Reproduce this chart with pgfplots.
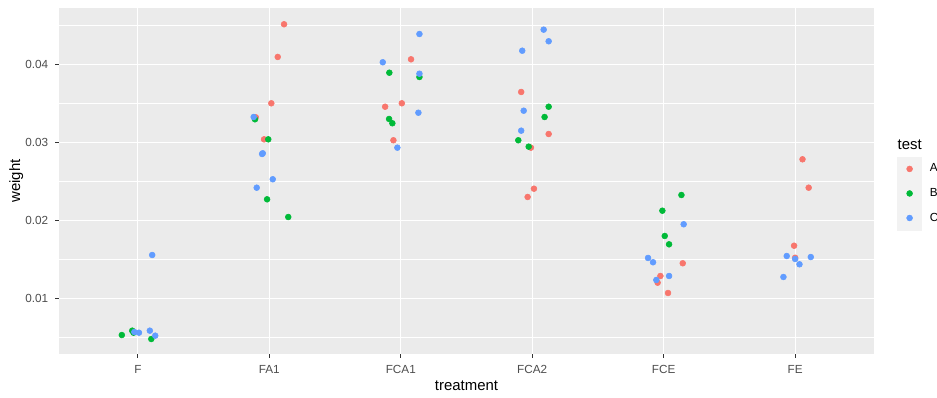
\documentclass[border=0pt]{standalone}
\usepackage{pgfplots}
\usepackage{pgfplotstable}
\pgfplotsset{compat=1.18}
\usepackage{fontspec}
\setmainfont{Liberation Sans}
\definecolor{cA}{HTML}{F8766D}
\definecolor{cB}{HTML}{00BA38}
\definecolor{cC}{HTML}{619CFF}
\definecolor{panel}{HTML}{EBEBEB}
\definecolor{keybg}{HTML}{F2F2F2}
\definecolor{gray30}{HTML}{4D4D4D}
\definecolor{gray20}{HTML}{333333}

% x = treatment index (F=1, FA1=2, FCA1=3, FCA2=4, FCE=5, FE=6) + jitter
\pgfplotstableread{
x y
2.112 0.04513
2.064 0.04094
2.015 0.03500
1.960 0.03038
1.897 0.03320
3.078 0.04064
2.881 0.03456
3.008 0.03500
2.944 0.03026
3.916 0.03645
4.125 0.03106
3.990 0.02931
4.013 0.02405
3.965 0.02299
5.145 0.01449
4.975 0.01286
4.954 0.01200
5.033 0.01068
6.056 0.02782
6.103 0.02418
5.992 0.01674
6.000 0.01520
}\dataA

\pgfplotstableread{
x y
0.878 0.00529
0.957 0.00585
0.967 0.00559
1.102 0.00478
1.891 0.03295
1.992 0.03038
1.983 0.02269
2.144 0.02042
2.913 0.03892
3.142 0.03837
2.911 0.03299
2.936 0.03244
4.125 0.03456
4.094 0.03324
3.894 0.03026
3.973 0.02944
5.135 0.02324
4.990 0.02123
5.008 0.01799
5.041 0.01692
}\dataB

\pgfplotstableread{
x y
0.973 0.00568
1.008 0.00559
1.091 0.00585
1.132 0.00521
1.109 0.01555
1.881 0.03324
1.950 0.02859
1.945 0.02850
1.904 0.02418
2.026 0.02526
3.142 0.04388
2.863 0.04026
3.142 0.03879
3.134 0.03379
2.974 0.02931
4.087 0.04444
4.125 0.04295
3.924 0.04174
3.935 0.03405
3.916 0.03149
5.152 0.01949
4.881 0.01517
4.919 0.01462
5.041 0.01286
4.944 0.01235
5.936 0.01542
6.000 0.01504
6.119 0.01529
6.033 0.01436
5.911 0.01273
}\dataC

\begin{document}
\begin{tikzpicture}
\begin{axis}[
  name=ax,
  at={(44.25pt,33pt)}, anchor=south west,
  scale only axis, width=611.25pt, height=259.5pt,
  xmin=0.4, xmax=6.6, ymin=0.002859, ymax=0.047218,
  scaled y ticks=false, scaled x ticks=false,
  axis background/.style={fill=panel},
  axis line style={draw=none},
  xtick={1,2,3,4,5,6}, xticklabels={F,FA1,FCA1,FCA2,FCE,FE},
  ytick={0.01,0.02,0.03,0.04}, yticklabels={0.01,0.02,0.03,0.04},
  minor ytick={0.005,0.015,0.025,0.035,0.045},
  xmajorgrids, ymajorgrids, yminorgrids,
  major grid style={white, line width=0.8pt},
  minor grid style={white, line width=0.4pt},
  tick pos=left, tick align=outside,
  major tick length=2.75pt,
  major tick style={gray20, line width=0.8pt},
  minor tick style={draw=none},
  ticklabel style={font=\fontsize{8.8}{10}\selectfont, text=gray30, inner sep=0pt},
  xticklabel style={anchor=north, yshift=-5.5pt},
  yticklabel style={anchor=east, xshift=-5.15pt},
  xlabel={treatment}, ylabel={weight},
  label style={font=\fontsize{11.2}{13}\selectfont, inner sep=0pt},
  xlabel style={at={(axis description cs:0.5,-0.10597)}, anchor=base},
  ylabel style={at={(axis description cs:-0.04785,0.5)}, anchor=base},
  legend style={at={(axis description cs:1.02863,0.57033)}, anchor=north west,
    draw=none, fill=none, inner sep=0pt, outer sep=0pt, row sep=0pt, column sep=6pt,
    font=\fontsize{8.8}{10}\selectfont, nodes={inner sep=0pt}},
  legend cell align=left,
  legend image code/.code={\fill[keybg] (0pt,-9pt) rectangle (18pt,9pt);
    \draw[#1] plot coordinates {(9pt,0pt)};},
]
\addplot[only marks, mark=*, color=cA, mark size=2.2pt, mark options={draw=none}] table[x=x,y=y] {\dataA};
\addlegendentry{A}
\addplot[only marks, mark=*, color=cB, mark size=2.2pt, mark options={draw=none}] table[x=x,y=y] {\dataB};
\addlegendentry{B}
\addplot[only marks, mark=*, color=cC, mark size=2.2pt, mark options={draw=none}] table[x=x,y=y] {\dataC};
\addlegendentry{C}
\end{axis}
\node[anchor=base west, inner sep=0pt, font=\fontsize{11.2}{13}\selectfont] at ([xshift=17.5pt,yshift=-106pt]ax.north east) {test};
\pgfresetboundingbox
\useasboundingbox (0,0) rectangle (702.75pt,298.5pt);
\end{tikzpicture}
\end{document}
